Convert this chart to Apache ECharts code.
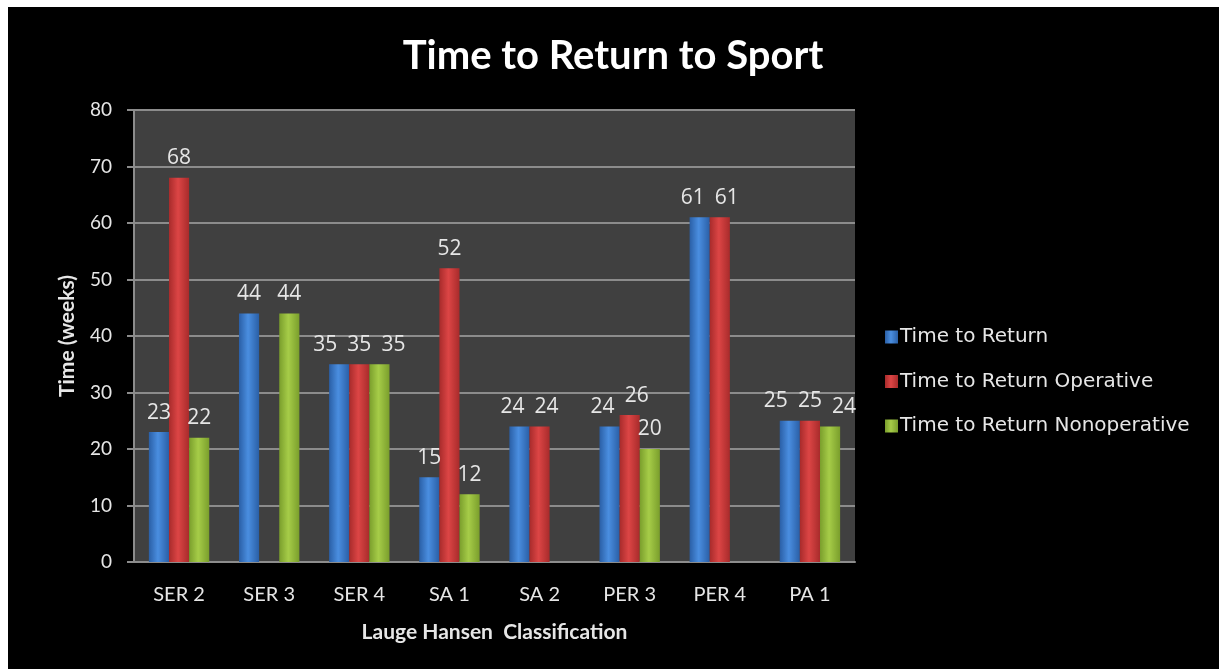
<!DOCTYPE html>
<html>
<head>
<meta charset="utf-8">
<script src="https://cdn.jsdelivr.net/npm/echarts@6/dist/echarts.min.js"></script>
<style>
  html, body { margin: 0; padding: 0; background: #fff; }
  #main { position: absolute; left: 8px; top: 7px; width: 1211px; height: 662px; background: #000; }
</style>
</head>
<body>
<div id="main"></div>
<script>
// 数据
var categories = ['SER 2', 'SER 3', 'SER 4', 'SA 1', 'SA 2', 'PER 3', 'PER 4', 'PA 1'];
var timeToReturn = [23, 44, 35, 15, 24, 24, 61, 25];
var timeOperative = [68, null, 35, 52, 24, 26, 61, 25];
var timeNonoperative = [22, 44, 35, 12, null, 20, null, 24];
var yTicks = [0, 10, 20, 30, 40, 50, 60, 70, 80];

var allSeries = [timeToReturn, timeOperative, timeNonoperative];

// 标签重叠时左右分开（像Excel那样）
var barPx = 20, spread = 34, plotH = 452;
var pxPerUnit = plotH / (yTicks[yTicks.length - 1] - yTicks[0]);
var labelShift = allSeries.map(function () { return categories.map(function () { return 0; }); });
categories.forEach(function (c, ci) {
  var s = 0;
  while (s < allSeries.length) {
    var group = [s];
    while (s + 1 < allSeries.length &&
           allSeries[s][ci] != null && allSeries[s + 1][ci] != null &&
           Math.abs(allSeries[s][ci] - allSeries[s + 1][ci]) * pxPerUnit < 20) {
      s++;
      group.push(s);
    }
    if (group.length > 1) {
      var mid = (group.length - 1) / 2;
      group.forEach(function (si, k) {
        labelShift[si][ci] = (k - mid) * spread - (k - mid) * barPx;
      });
    }
    s++;
  }
});

function barColor(dark, light) {
  return new echarts.graphic.LinearGradient(0, 0, 1, 0, [
    {offset: 0, color: dark},
    {offset: 0.45, color: light},
    {offset: 1, color: dark}
  ]);
}

var labelStyle = {
  show: true,
  position: 'top',
  distance: 9,
  color: '#e6e6e6',
  fontSize: 21,
  fontFamily: 'Open Sans'
};

var myChart = echarts.init(document.getElementById('main'));
var option = {
  backgroundColor: '#000',
  animation: false,
  title: {
    text: 'Time to Return to Sport',
    left: 600,
    top: 24,
    textAlign: 'center',
    textStyle: {color: '#fff', fontSize: 40, fontWeight: 'bold', fontFamily: 'Lato'}
  },
  legend: {
    orient: 'vertical',
    left: 872,
    top: 315,
    itemWidth: 13,
    itemHeight: 13,
    itemGap: 24.5,
    icon: 'rect',
    textStyle: {color: '#e6e6e6', fontSize: 20, fontFamily: 'DejaVu Sans', padding: [0, 0, 0, -3]},
    data: ['Time to Return', 'Time to Return Operative', 'Time to Return Nonoperative']
  },
  grid: {
    left: 126, top: 103, width: 721, height: plotH,
    show: true, backgroundColor: '#404040', borderWidth: 0
  },
  xAxis: {
    type: 'category',
    data: categories,
    name: 'Lauge Hansen  Classification',
    nameLocation: 'middle',
    nameGap: 60,
    nameTextStyle: {color: '#e6e6e6', fontSize: 21, fontWeight: 'bold', fontFamily: 'Lato'},
    axisLine: {lineStyle: {color: '#8c8c8c', width: 2}},
    axisTick: {show: false},
    axisLabel: {color: '#e6e6e6', fontSize: 20, fontFamily: 'Lato', margin: 23}
  },
  yAxis: {
    type: 'value',
    min: yTicks[0],
    max: yTicks[yTicks.length - 1],
    interval: 10,
    name: 'Time (weeks)',
    nameLocation: 'middle',
    nameGap: 56,
    nameTextStyle: {color: '#e6e6e6', fontSize: 21, fontWeight: 'bold', fontFamily: 'Lato'},
    axisLine: {show: true, lineStyle: {color: '#8c8c8c', width: 2}},
    axisTick: {show: true, length: 7, lineStyle: {color: '#8c8c8c', width: 2}},
    axisLabel: {color: '#e6e6e6', fontSize: 19, fontFamily: 'Lato', margin: 22},
    splitLine: {lineStyle: {color: '#8c8c8c', width: 2}}
  },
  series: [
    {
      name: 'Time to Return', type: 'bar', data: timeToReturn,
      barGap: '0%', barCategoryGap: '33%',
      itemStyle: {color: barColor('#2a5fa6', '#4a8ee0')},
      label: labelStyle
    },
    {
      name: 'Time to Return Operative', type: 'bar', data: timeOperative,
      itemStyle: {color: barColor('#a82b2b', '#dc4545')},
      label: labelStyle
    },
    {
      name: 'Time to Return Nonoperative', type: 'bar', data: timeNonoperative,
      itemStyle: {color: barColor('#7a9e2c', '#a6cc48')},
      label: labelStyle
    }
  ],
  labelLayout: function (params) {
    return {dx: labelShift[params.seriesIndex][params.dataIndex]};
  }
};
myChart.setOption(option);
</script>
</body>
</html>
